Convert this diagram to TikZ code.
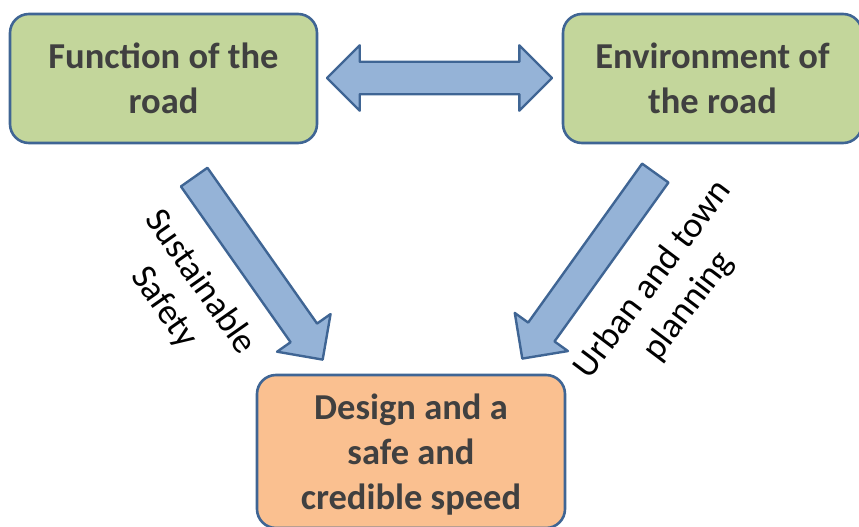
\documentclass[tikz,border=0pt]{standalone}
\usepackage{fontspec}
\setmainfont{Carlito}
\usetikzlibrary{shapes.arrows,calc}

\definecolor{roadgreen}{HTML}{C3D69B}
\definecolor{speedorange}{HTML}{FAC090}
\definecolor{frameblue}{HTML}{3F6594}
\definecolor{arrowblue}{HTML}{95B3D7}
\definecolor{textgray}{HTML}{404040}

\tikzset{
  roadbox/.style={draw=frameblue, line width=2.6pt, rounded corners=19pt,
    fill=roadgreen, align=center, text=textgray, inner sep=0pt,
    font=\fontsize{36.5}{45}\selectfont\bfseries},
  speedbox/.style={roadbox, fill=speedorange},
  flowarrow/.style={single arrow, draw=frameblue, fill=arrowblue,
    line width=2.4pt, line join=round, inner sep=15pt, minimum width=63pt,
    single arrow head extend=16.5pt, single arrow tip angle=90},
  linkarrow/.style={double arrow, draw=frameblue, fill=arrowblue,
    line width=2.4pt, line join=round, inner sep=15pt, minimum width=63pt,
    double arrow head extend=16.5pt, double arrow tip angle=90},
  sidelabel/.style={align=center, inner sep=0pt,
    font=\fontsize{36}{44}\selectfont}
}

% block arrow between two named points
\newcommand{\blockarrow}[3]{%
  \path let \p1=($(#3)-(#2)$), \n1={veclen(\x1,\y1)}, \n2={atan2(\y1,\x1)} in
    node[#1, minimum height=\n1, rotate=\n2] at ($(#2)!0.5!(#3)$) {};}

\begin{document}
\begin{tikzpicture}[x=1pt,y=-1pt]
  \useasboundingbox (0,0) rectangle (859,527);

  % boxes
  \node[roadbox, minimum width=307pt, minimum height=129pt] (func) at (163.5,78.5)
    {Function of the\\road};
  \node[roadbox, minimum width=299pt, minimum height=129pt] (envir) at (712.5,78.5)
    {Environment of\\the road};
  \node[speedbox, minimum width=308pt, minimum height=153pt, text depth=-8pt] (design) at (411,451.5)
    {Design and a\\safe and\\credible speed};

  % arrow ends
  \coordinate (linkL) at (327,78);
  \coordinate (linkR) at (552,78);
  \coordinate (funcout) at (189.5,170.5);
  \coordinate (funcin) at (318,353);
  \coordinate (envout) at (660,166.5);
  \coordinate (envin) at (527,352);

  % arrows
  \blockarrow{linkarrow}{linkL}{linkR}
  \blockarrow{flowarrow}{funcout}{funcin}
  \blockarrow{flowarrow}{envout}{envin}

  % labels
  \node[sidelabel, rotate=-55] (safety) at (182,295) {Sustainable\\Safety};
  \node[sidelabel, rotate=53] (planning) at (671,293) {Urban and town\\planning};
\end{tikzpicture}
\end{document}
